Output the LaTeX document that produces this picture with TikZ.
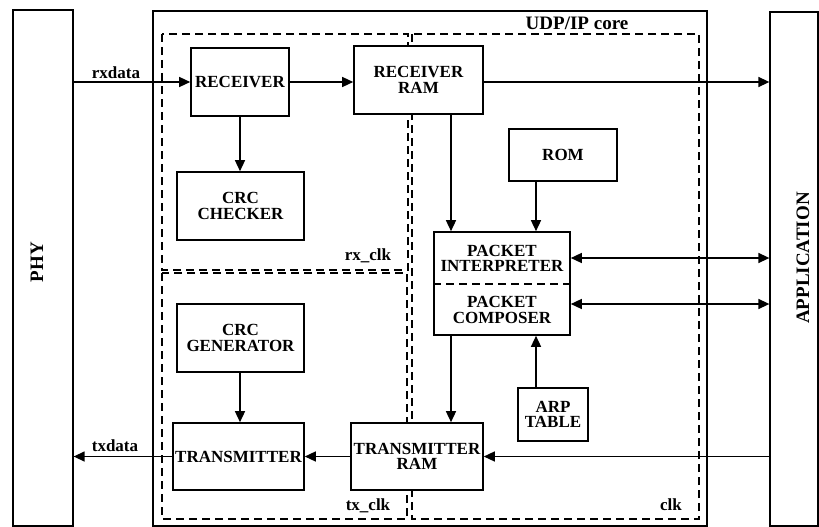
\documentclass[tikz,border=0pt]{standalone}
\usepackage{fontspec}
\setmainfont{Liberation Serif}
\usetikzlibrary{arrows.meta}
\begin{document}
\begin{tikzpicture}[x=1pt,y=-1pt,
  blk/.style={draw,line width=1.6pt,inner sep=0pt,align=center,font=\bfseries\fontsize{17}{15.5}\selectfont},
  outer/.style={draw,line width=1.3pt,inner sep=0pt},
  region/.style={draw,line width=1.4pt,dash pattern=on 8pt off 5pt},
  arr/.style={line width=1.4pt,-{Triangle[length=11pt,width=10pt]}},
  darr/.style={line width=1.4pt,{Triangle[length=11pt,width=10pt]}-{Triangle[length=11pt,width=10pt]}},
  lbl/.style={font=\bfseries\fontsize{17}{15.5}\selectfont,inner sep=0pt,align=center},
  big/.style={font=\bfseries\fontsize{19}{19}\selectfont,inner sep=0pt}
]
\useasboundingbox (0,0) rectangle (819,527);

% outer boxes
\node[outer,minimum width=60,minimum height=516] (phy) at (43,268) {};
\node[outer,minimum width=48,minimum height=514] (app) at (794,269) {};
\node[outer,line width=1.7pt,minimum width=554,minimum height=515] (core) at (430,268.5) {};
\node[big,rotate=90] (phylbl) at (37,262) {PHY};
\node[big,rotate=90] (applbl) at (803,258) {APPLICATION};
\node[big] (corelbl) at (577,23) {UDP/IP core};

% clock regions
\draw[region] (162,34) rectangle (408,270);
\draw[region] (162,273) rectangle (407,519);
\draw[region] (412,34) rectangle (699,519);
\node[lbl] (rxclk) at (368,256) {rx\_clk};
\node[lbl] (txclk) at (368,506) {tx\_clk};
\node[lbl] (clk) at (671,505) {clk};

% blocks
\node[blk,minimum width=98,minimum height=68,fill=white] (recv) at (240,82) {RECEIVER};
\node[blk,minimum width=129,minimum height=68,fill=white] (rram) at (418.5,80) {RECEIVER\\RAM};
\node[blk,minimum width=127,minimum height=68] (crcc) at (240.5,206) {CRC\\CHECKER};
\node[blk,minimum width=108,minimum height=52] (rom) at (563,155) {ROM};
\node[blk,minimum width=136,minimum height=103] (pkt) at (502,283.5) {};
\node[lbl] (pi) at (502,258.5) {PACKET\\INTERPRETER};
\node[lbl] (pc) at (502,310) {PACKET\\COMPOSER};
\node[blk,minimum width=127,minimum height=68] (crcg) at (240.5,338) {CRC\\GENERATOR};
\node[blk,minimum width=131,minimum height=67] (tx) at (238.5,456.5) {TRANSMITTER};
\node[blk,minimum width=132,minimum height=67,fill=white] (txram) at (417,456.5) {TRANSMITTER\\RAM};
\node[blk,minimum width=70,minimum height=53] (arp) at (553,414.5) {ARP\\TABLE};

\coordinate (divy) at (0,284);
\coordinate (y1) at (0,258);
\coordinate (y2) at (0,304);
\coordinate (xa) at (451,0);
\coordinate (xb) at (536,0);
\coordinate (xc) at (240,0);
\draw[line width=1.4pt,dash pattern=on 8pt off 5pt] (pkt.west |- divy) -- (pkt.east |- divy);

% connectors
\draw[arr] (phy.east |- recv.west) -- (recv.west);
\node[lbl] (rxdata) at (116,73) {rxdata};
\draw[arr] (recv.east) -- (rram.west |- recv.east);
\draw[arr] (rram.east |- recv.east) -- (app.west |- recv.east);
\draw[arr] (recv.south -| xc) -- (crcc.north -| xc);
\draw[arr] (rram.south -| xa) -- (pkt.north -| xa);
\draw[arr] (rom.south -| xb) -- (pkt.north -| xb);
\draw[darr] (pkt.east |- y1) -- (app.west |- y1);
\draw[darr] (pkt.east |- y2) -- (app.west |- y2);
\draw[arr] (pkt.south -| xa) -- (txram.north -| xa);
\draw[arr] (arp.north -| xb) -- (pkt.south -| xb);
\draw[arr] (app.west |- txram.east) -- (txram.east);
\draw[arr] (txram.west) -- (tx.east);
\draw[arr] (tx.west) -- (phy.east |- tx.west);
\node[lbl] (txdata) at (115,446) {txdata};
\draw[arr] (crcg.south -| xc) -- (tx.north -| xc);
\end{tikzpicture}
\end{document}
